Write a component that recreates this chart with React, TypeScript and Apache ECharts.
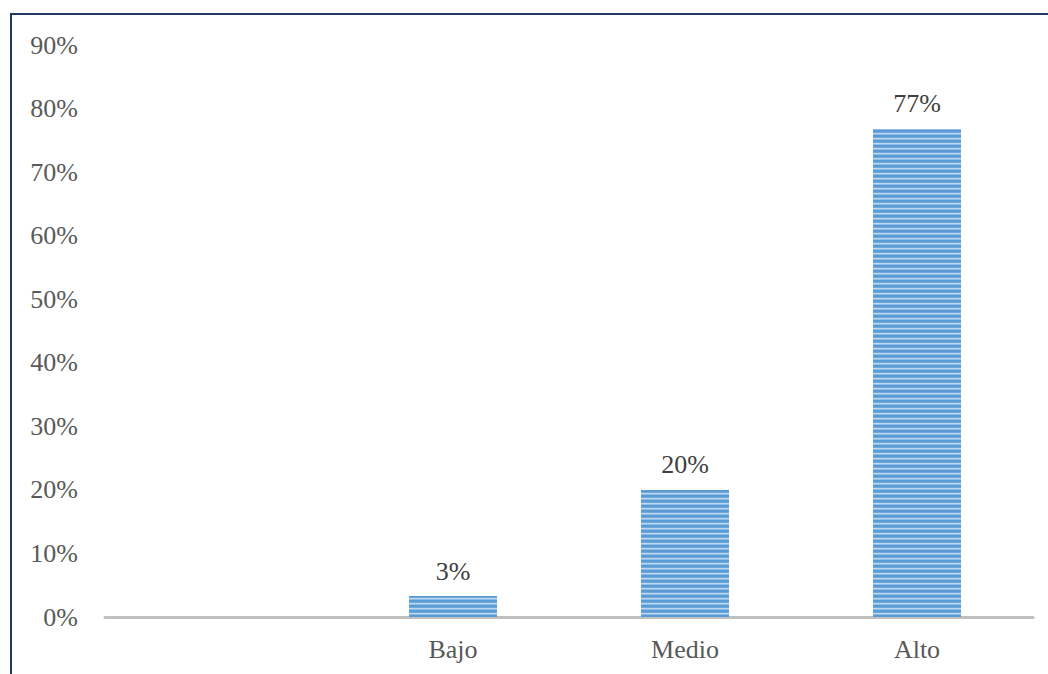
import React, { useEffect, useRef } from "react";
import * as echarts from "echarts";

const categories = ["", "Bajo", "Medio", "Alto"];
const values: (number | null)[] = [null, 3.3, 20, 76.8];
const yTicks = [0, 10, 20, 30, 40, 50, 60, 70, 80, 90];

function makeStripe(): HTMLCanvasElement {
  const c = document.createElement("canvas");
  c.width = 4;
  c.height = 5;
  const ctx = c.getContext("2d")!;
  const rows = ["#5B9BD5", "#5B9BD5", "#6FA8DC", "#BDD7EE", "#8DBCE6"];
  rows.forEach((col, i) => {
    ctx.fillStyle = col;
    ctx.fillRect(0, i, 4, 1);
  });
  return c;
}

const FONT = "'Liberation Serif', 'Times New Roman', serif";

export default function App() {
  const ref = useRef<HTMLDivElement>(null);
  useEffect(() => {
    if (!ref.current) return;
    const chart = echarts.init(ref.current, undefined, { renderer: "svg" });
    const stripe = makeStripe();
    chart.setOption({
      animation: false,
      backgroundColor: "#ffffff",
      grid: { left: 105, right: 15, top: 45, bottom: 57, containLabel: false },
      graphic: [
        {
          type: "rect",
          shape: { x: 11, y: 14, width: 1100, height: 700 },
          style: { fill: "none", stroke: "#1F3864", lineWidth: 2 },
          z: 100,
          silent: true,
        },
      ],
      xAxis: {
        type: "category",
        data: categories,
        axisLine: { lineStyle: { color: "#BFBFBF", width: 3 } },
        axisTick: { show: false },
        axisLabel: {
          color: "#595959",
          fontFamily: FONT,
          fontSize: 26,
          margin: 19,
        },
      },
      yAxis: {
        type: "value",
        min: yTicks[0],
        max: yTicks[yTicks.length - 1],
        interval: 10,
        splitLine: { show: false },
        axisLine: { show: false },
        axisTick: { show: false },
        axisLabel: {
          color: "#595959",
          fontFamily: FONT,
          fontSize: 26,
          margin: 27,
          formatter: (v: number) => `${v}%`,
        },
      },
      series: [
        {
          type: "bar",
          data: values,
          barWidth: 88,
          itemStyle: { color: { image: stripe, repeat: "repeat" } },
          label: {
            show: true,
            position: "top",
            distance: 12,
            color: "#404040",
            fontFamily: FONT,
            fontSize: 26,
            formatter: (p: any) => `${Math.round(p.value)}%`,
          },
        },
      ],
    });
    return () => chart.dispose();
  }, []);
  return (
    <div
      ref={ref}
      style={{ position: "fixed", left: 0, top: 0, width: 1048, height: 674 }}
    />
  );
}
